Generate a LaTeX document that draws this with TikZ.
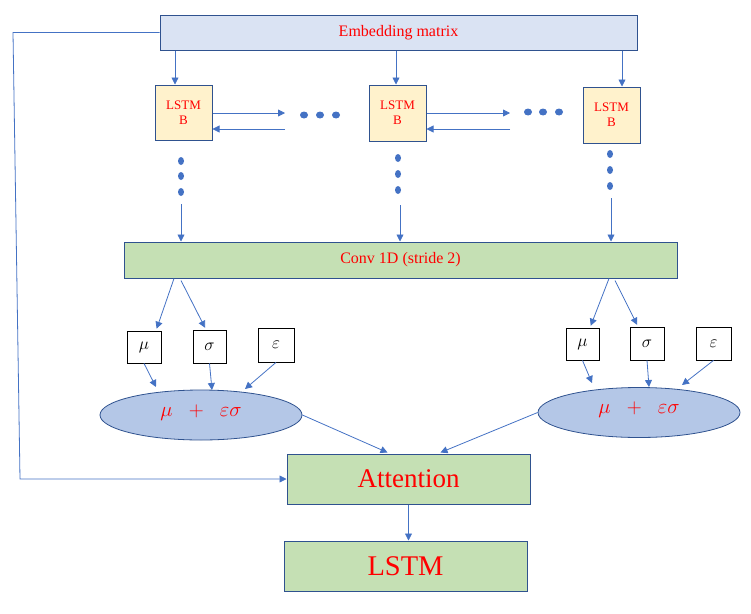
\documentclass[tikz,border=0pt]{standalone}
\usepackage{fontspec}
\setmainfont{Liberation Serif}
\usetikzlibrary{arrows,arrows.meta,shapes.geometric}
\definecolor{arrblue}{HTML}{4472C4}
\definecolor{lineblue}{HTML}{2F528F}
\definecolor{embfill}{HTML}{DAE3F3}
\definecolor{lstmfill}{HTML}{FFF2CC}
\definecolor{convfill}{HTML}{C5E0B4}
\definecolor{ellfill}{HTML}{B4C7E7}
\tikzset{
  arr/.style={-{Triangle[length=7pt,width=7pt]},draw=arrblue,line width=0.8pt},
  blk/.style={draw=lineblue,line width=1pt,inner sep=0pt,text=red,align=center,
    font=\fontsize{13}{15}\selectfont},
  var/.style={draw=black,fill=white,line width=0.8pt,inner sep=0pt,
    font=\fontsize{16}{18}\selectfont},
  sum/.style={ellipse,draw=lineblue,fill=ellfill,line width=0.8pt,inner sep=0pt,
    minimum width=202pt,minimum height=50pt,text=red,font=\fontsize{21}{23}\selectfont},
  dot/.style={fill=arrblue}
}
\begin{document}
\begin{tikzpicture}[x=1pt,y=-1pt]
\useasboundingbox (0,0) rectangle (751,613);
\node[blk,fill=embfill,minimum width=477pt,minimum height=35pt,font=\fontsize{16}{18}\selectfont] (emb) at (398.5,32.5) {Embedding matrix};
\node[blk,fill=lstmfill,minimum width=57pt,minimum height=55pt] (L1) at (183.5,112.5) {LSTM\\B};
\node[blk,fill=lstmfill,minimum width=57pt,minimum height=56pt] (L2) at (397.5,113) {LSTM\\B};
\node[blk,fill=lstmfill,minimum width=57pt,minimum height=56pt] (L3) at (611.5,115) {LSTM\\B};
\node[blk,fill=convfill,minimum width=553pt,minimum height=36pt,font=\fontsize{16}{18}\selectfont] (conv) at (400.5,260) {Conv 1D (stride 2)};
\node[var,minimum width=34pt,minimum height=32pt] (muL) at (144,347) {$\mu$};
\node[var,minimum width=33pt,minimum height=33pt] (sigL) at (209.5,346.5) {$\sigma$};
\node[var,minimum width=36pt,minimum height=34pt] (epsL) at (276,345) {$\varepsilon$};
\node[var,minimum width=33pt,minimum height=32pt] (muR) at (582.5,344) {$\mu$};
\node[var,minimum width=34pt,minimum height=33pt] (sigR) at (647,343.5) {$\sigma$};
\node[var,minimum width=35pt,minimum height=33pt] (epsR) at (713.5,343.5) {$\varepsilon$};
\node[sum] (sumL) at (201,415) {\raisebox{9pt}{$\mu\;\;+\;\;\varepsilon\sigma$}};
\node[sum] (sumR) at (639,412.5) {\raisebox{9pt}{$\mu\;\;+\;\;\varepsilon\sigma$}};
\node[blk,fill=convfill,minimum width=243pt,minimum height=50pt,font=\fontsize{27}{29}\selectfont] (att) at (408.5,479) {Attention};
\node[blk,fill=convfill,minimum width=243pt,minimum height=50pt,font=\fontsize{28.5}{30}\selectfont] (lstm) at (405.5,566) {LSTM};
\coordinate (p1) at (285,113); \coordinate (q1) at (285,129);
\coordinate (p2) at (510,113); \coordinate (q2) at (510,129);
\coordinate (d1) at (181,204); \coordinate (d2) at (400,205); \coordinate (d3) at (611,198);
\coordinate (c1) at (13,32.5); \coordinate (c2) at (20,479);
\draw[arr] ([xshift=-8.5pt]L1.north |- emb.south) -- ([xshift=-8.5pt]L1.north);
\draw[arr] ([xshift=-1.5pt]L2.north |- emb.south) -- ([xshift=-1.5pt]L2.north);
\draw[arr] ([xshift=10.5pt]L3.north |- emb.south) -- ([xshift=10.5pt]L3.north);
\draw[arr] (L1.east |- p1) -- (p1);
\draw[arr] (q1) -- (L1.east |- q1);
\draw[arr] (L2.east |- p2) -- (p2);
\draw[arr] (q2) -- (L2.east |- q2);
\foreach \x in {304,320,336} \fill[dot] (\x,115) ellipse (4pt and 3.5pt);
\foreach \x in {528,543,559} \fill[dot] (\x,112) ellipse (4pt and 3.5pt);
\foreach \y in {161,176,192} \fill[dot] (181,\y) ellipse (3pt and 4pt);
\foreach \y in {158,174,190} \fill[dot] (398,\y) ellipse (3pt and 4pt);
\foreach \y in {154,170,186} \fill[dot] (610,\y) ellipse (3pt and 4pt);
\draw[arr] (d1) -- (d1 |- conv.north);
\draw[arr] (d2) -- (d2 |- conv.north);
\draw[arr] (d3) -- (d3 |- conv.north);
\draw[arr,shorten >=2pt] ([xshift=-226.5pt]conv.south) -- ([xshift=12pt]muL.north);
\draw[arr,shorten >=2pt] ([xshift=-219.5pt,yshift=-2pt]conv.south) -- ([xshift=-3.5pt]sigL.north);
\draw[arr,shorten >=2pt] ([xshift=208.5pt]conv.south) -- ([xshift=7.5pt]muR.north);
\draw[arr,shorten >=2pt] ([xshift=214.5pt,yshift=-2pt]conv.south) -- ([xshift=-9pt]sigR.north);
\draw[arr] (muL.south) -- (156,387);
\draw[arr] (sigL.south) -- (212,390);
\draw[arr] (epsL.south) -- (245,389);
\draw[arr] (muR.south) -- (592,383);
\draw[arr] (sigR.south) -- (649,387);
\draw[arr] (epsR.south) -- (682,385);
\draw[arr] (sumL.east) -- ([xshift=-21pt,yshift=1pt]att.north);
\draw[arr] (sumR.west) -- ([xshift=32pt,yshift=1pt]att.north);
\draw[arr] (att.south) -- (att.south |- lstm.north);
\draw[arr] (emb.west) -- (c1) -- (c2) -- (att.west);
\end{tikzpicture}
\end{document}
